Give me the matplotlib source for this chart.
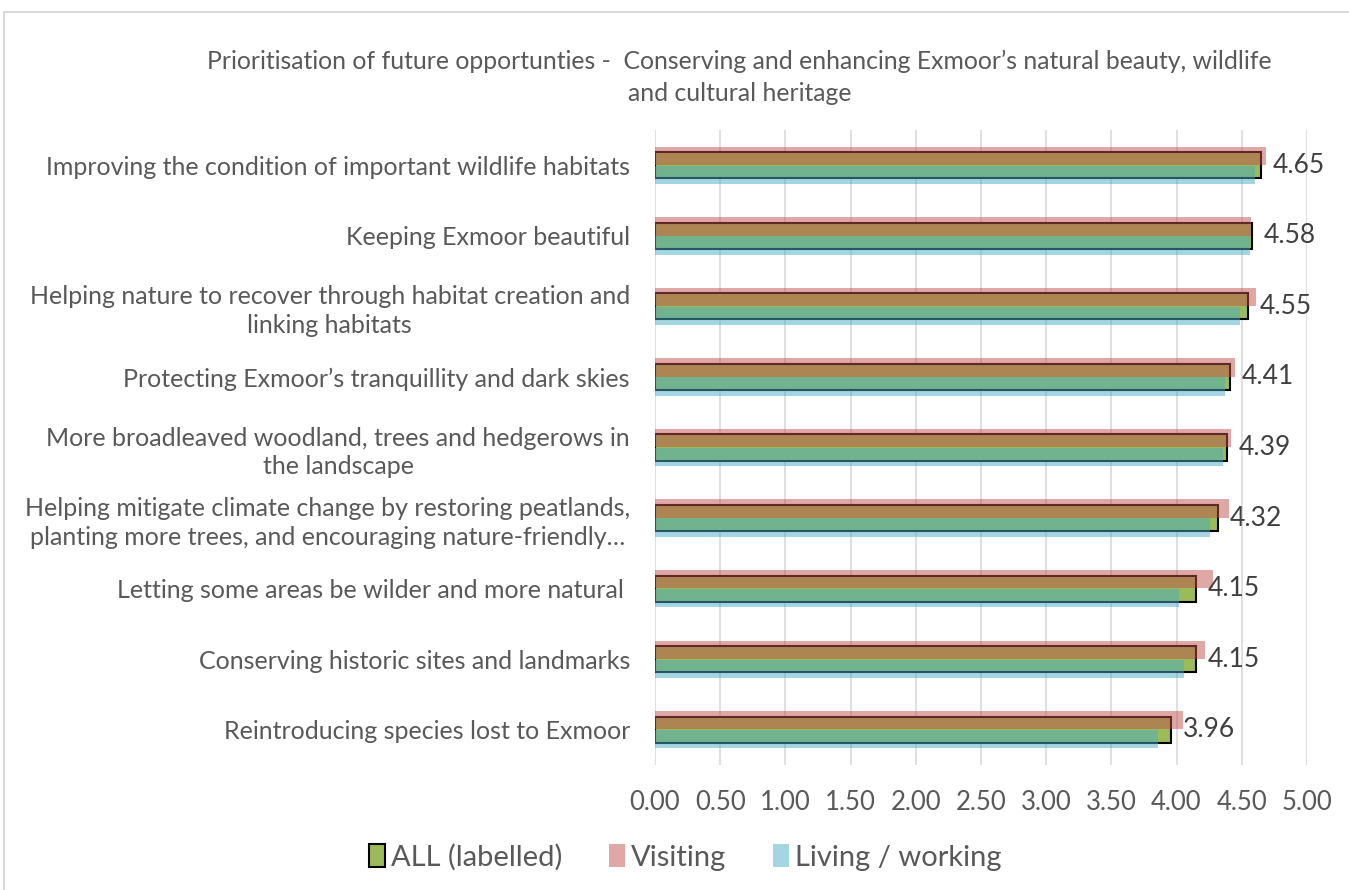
import matplotlib.pyplot as plt
from matplotlib.patches import Rectangle
import numpy as np

plt.rcParams['font.family'] = ['Lato', 'DejaVu Sans']

title = ('Prioritisation of future opportunties -  Conserving and enhancing Exmoor\u2019s natural beauty, wildlife\n'
         'and cultural heritage')

categories = [
    'Improving the condition of important wildlife habitats',
    'Keeping Exmoor beautiful',
    'Helping nature to recover through habitat creation and\nlinking habitats',
    'Protecting Exmoor\u2019s tranquillity and dark skies',
    'More broadleaved woodland, trees and hedgerows in\nthe landscape',
    'Helping mitigate climate change by restoring peatlands,\nplanting more trees, and encouraging nature-friendly\u2026',
    'Letting some areas be wilder and more natural ',
    'Conserving historic sites and landmarks',
    'Reintroducing species lost to Exmoor',
]
all_vals = [4.65, 4.58, 4.55, 4.41, 4.39, 4.32, 4.15, 4.15, 3.96]
visiting = [4.69, 4.57, 4.61, 4.45, 4.42, 4.40, 4.28, 4.22, 4.05]
living = [4.60, 4.56, 4.49, 4.37, 4.36, 4.26, 4.02, 4.06, 3.86]
xticks = [0, 0.5, 1, 1.5, 2, 2.5, 3, 3.5, 4, 4.5, 5]

text_col = '#595959'

fig = plt.figure(figsize=(13.49, 8.90), dpi=100)
ax = fig.add_axes([0.4855, 0.1404, 0.4833, 0.7135])

y = np.arange(len(categories))
ax.barh(y, all_vals, height=0.37, color='#9BBB59', edgecolor='black',
        linewidth=1.5, label='ALL (labelled)', zorder=2)
ax.barh(y - 0.135, visiting, height=0.26, color='#C0504D', alpha=0.5,
        linewidth=0, label='Visiting', zorder=3)
ax.barh(y + 0.135, living, height=0.26, color='#4BACC6', alpha=0.5,
        linewidth=0, label='Living / working', zorder=3)

for yi, v in zip(y, all_vals):
    ax.text(v + 0.09, yi, '%.2f' % v, va='center', ha='left',
            fontsize=19, color='#404040')

ax.set_xlim(0, 5)
ax.set_ylim(len(categories) - 0.5, -0.5)
ax.set_xticks(xticks)
ax.set_xticklabels(['%.2f' % t for t in xticks], fontsize=18.5, color=text_col)
ax.set_yticks(y)
ax.set_yticklabels(categories, fontsize=18, color=text_col, multialignment='center',
                   linespacing=1.3)
ax.tick_params(axis='both', length=0)
ax.tick_params(axis='x', pad=18)
ax.tick_params(axis='y', pad=18)
ax.grid(axis='x', color='#D9D9D9', linewidth=1.2, zorder=0)
ax.set_axisbelow(True)
for s in ax.spines.values():
    s.set_visible(False)

fig.text(0.548, 0.913, title, ha='center', va='center', fontsize=17.8,
         color=text_col, linespacing=1.45)

fig.legend(loc='center', bbox_to_anchor=(0.508, 0.037), ncol=3, frameon=False,
           fontsize=21, labelcolor=text_col, handlelength=0.55, handleheight=0.85,
           handletextpad=0.2, columnspacing=1.6)

fig.patches.append(Rectangle((0.003, -0.1), 1.2, 1.087, transform=fig.transFigure,
                             fill=False, edgecolor='#D9D9D9', linewidth=1.5))

plt.savefig('out.png', dpi=100)
plt.close()
